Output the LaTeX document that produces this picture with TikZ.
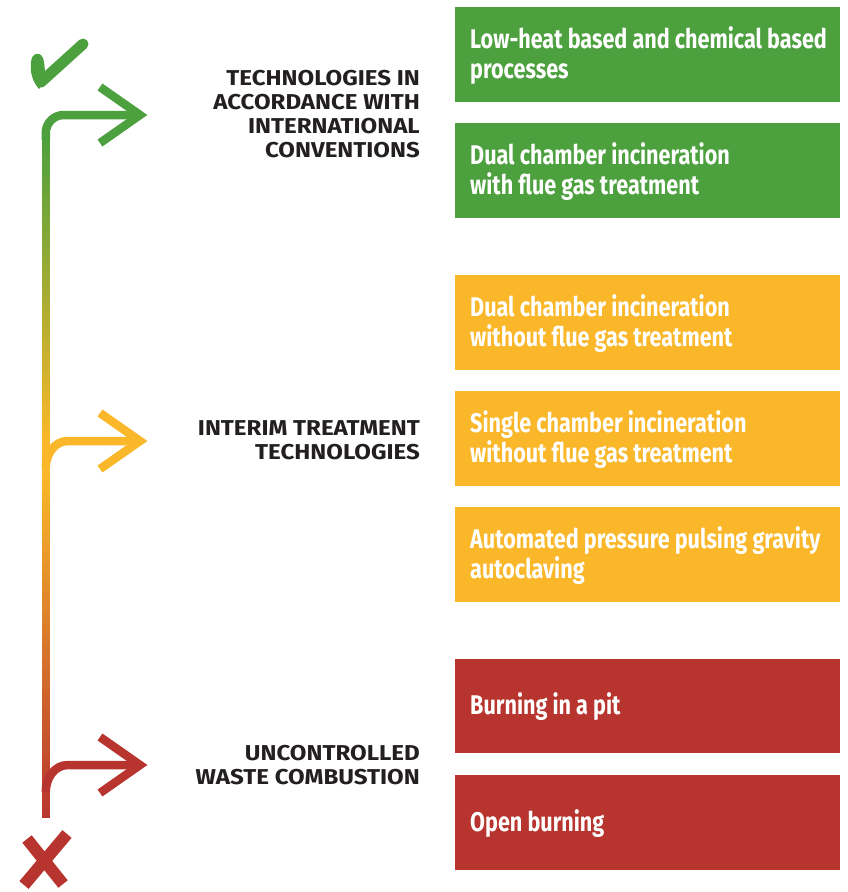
\documentclass[tikz,border=0pt]{standalone}
\usepackage{fontspec}
\setmainfont{Fira Sans}
\newfontfamily\boxfont{Fira Sans}[FakeStretch=0.80]
\newfontfamily\labelfont{Fira Sans}[FakeStretch=1.12]
\definecolor{cgreen}{HTML}{4DA03E}
\definecolor{cyellow}{HTML}{F9B729}
\definecolor{cred}{HTML}{B7352E}
\definecolor{ctext}{HTML}{231F20}
\tikzset{
  boxtext/.style={anchor=west, align=left, text=white, inner sep=0pt,
    font=\boxfont\bfseries\fontsize{27}{30}\selectfont},
  lbl/.style={anchor=east, align=right, text=ctext, inner sep=0pt,
    font=\labelfont\bfseries\fontsize{21.5}{24}\selectfont},
  branch/.style={line width=8.5pt},
  chev/.style={line width=8.5pt, line join=miter},
}
\begin{document}
\begin{tikzpicture}[x=1pt,y=-1pt]
\useasboundingbox (0,0) rectangle (848,892);
% boxes
\fill[cgreen] (455,7) rectangle (840,102);
\fill[cgreen] (455,123) rectangle (840,218);
\fill[cyellow] (455,275) rectangle (840,370);
\fill[cyellow] (455,391) rectangle (840,486);
\fill[cyellow] (455,507) rectangle (840,602);
\fill[cred] (455,659) rectangle (840,753);
\fill[cred] (455,775) rectangle (840,870);
\node[boxtext] (b1) at (470,56) {Low-heat based and chemical based\\processes};
\node[boxtext] (b2) at (470,172) {Dual chamber incineration\\with flue gas treatment};
\node[boxtext] (b3) at (470,324) {Dual chamber incineration\\without flue gas treatment};
\node[boxtext] (b4) at (470,440) {Single chamber incineration\\without flue gas treatment};
\node[boxtext] (b5) at (470,556) {Automated pressure pulsing gravity\\autoclaving};
\node[boxtext] (b6) at (470,707) {Burning in a pit};
\node[boxtext] (b7) at (470,824) {Open burning};
% labels
\node[lbl] (l1) at (420,114) {TECHNOLOGIES IN\\ACCORDANCE WITH\\INTERNATIONAL\\CONVENTIONS};
\node[lbl] (l2) at (420,440) {INTERIM TREATMENT\\TECHNOLOGIES};
\node[lbl] (l3) at (420,765) {UNCONTROLLED\\WASTE COMBUSTION};
% vertical gradient line (piecewise)
\foreach \i in {0,...,59} {
  \pgfmathsetmacro{\ya}{135+\i*5.1}
  \pgfmathsetmacro{\yb}{\ya+5.6}
  \pgfmathsetmacro{\p}{100-\i*100/59}
  \fill[cgreen!\p!cyellow] (41.5,\ya) rectangle (50,\yb);
}
\fill[cyellow] (41.5,436) rectangle (50,476);
\foreach \i in {0,...,67} {
  \pgfmathsetmacro{\ya}{475+\i*5.1}
  \pgfmathsetmacro{\yb}{min(\ya+5.6,817)}
  \pgfmathsetmacro{\p}{100-\i*100/67}
  \fill[cyellow!\p!cred] (41.5,\ya) rectangle (50,\yb);
}
% green branch
\draw[cgreen, branch, rounded corners=18pt] (45.75,140) -- (45.75,115) -- (140,115);
\draw[cgreen, chev] (100,87) -- (140,115) -- (100,143);
% yellow branch
\draw[cyellow, branch] (45.75,468) to[out=90,in=180] (68,441) -- (140,441);
\draw[cyellow, chev] (100,413) -- (140,441) -- (100,469);
% red branch
\draw[cred, branch] (45.75,792) to[out=90,in=180] (68,765) -- (140,765);
\draw[cred, chev] (100,737) -- (140,765) -- (100,793);
% check mark
\draw[cgreen, line width=11pt, line cap=round, line join=round] (37,60) -- (41,82) -- (83,44);
\fill[cgreen] (31,62) .. controls (32,51) and (43,51) .. (44,62) -- (46,80) -- (39,89) .. controls (32,81) and (30,72) .. (31,62) -- cycle;
% cross
\draw[cred, line width=12pt] (27,839) -- (63,884);
\draw[cred, line width=12pt] (67,834) -- (24,885);
\end{tikzpicture}
\end{document}
